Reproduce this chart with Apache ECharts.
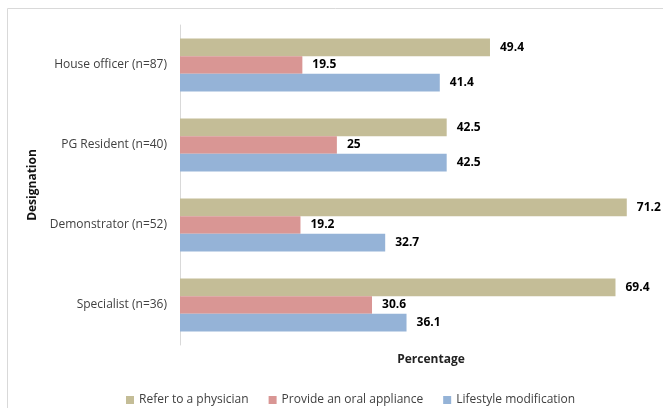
<!DOCTYPE html>
<html>
<head>
<meta charset="utf-8">
<script src="https://cdn.jsdelivr.net/npm/echarts@6/dist/echarts.min.js"></script>
<style>
  html, body { margin: 0; padding: 0; background: #fff; }
  #chart { width: 663px; height: 408px; }
</style>
</head>
<body>
<div id="chart"></div>
<script>
// categories, top to bottom
const designations = ['House officer (n=87)', 'PG Resident (n=40)', 'Demonstrator (n=52)', 'Specialist (n=36)']
const seriesNames = ['Refer to a physician', 'Provide an oral appliance', 'Lifestyle modification']
const referPhysician = [49.4, 42.5, 71.2, 69.4]
const oralAppliance = [19.5, 25, 19.2, 30.6]
const lifestyleMod = [41.4, 42.5, 32.7, 36.1]
const colors = ['#c4bd97', '#d99694', '#95b3d7']

const chart = echarts.init(document.getElementById('chart'))

const barSeries = (name, data, color) => ({
  name,
  type: 'bar',
  data,
  barGap: '0%',
  barCategoryGap: '34%',
  itemStyle: { color },
  label: {
    show: true,
    position: 'right',
    distance: 10,
    color: '#000',
    fontWeight: 'bold',
    fontSize: 12,
    fontFamily: 'Open Sans'
  }
})

chart.setOption({
  animation: false,
  textStyle: { fontFamily: 'Open Sans' },
  graphic: [
    {
      type: 'rect',
      shape: { x: 7.5, y: 8.5, width: 700, height: 500 },
      style: { fill: 'none', stroke: '#d9d9d9', lineWidth: 1 },
      silent: true
    }
  ],
  // plot area runs past the right edge, like the original (axis max 80)
  grid: { left: 180, top: 25, width: 502, height: 320, outerBoundsMode: 'none' },
  legend: {
    data: seriesNames,
    left: 121,
    top: 389,
    icon: 'rect',
    itemWidth: 8,
    itemHeight: 8,
    itemGap: 20,
    textStyle: { color: '#404040', fontSize: 12, fontFamily: 'Open Sans' }
  },
  xAxis: {
    type: 'value',
    min: 0,
    max: 80,
    name: 'Percentage',
    nameLocation: 'middle',
    nameGap: 9,
    nameTextStyle: { color: '#222', fontWeight: 'bold', fontSize: 12 },
    axisLine: { show: false },
    axisTick: { show: false },
    axisLabel: { show: false },
    splitLine: { show: false }
  },
  yAxis: {
    type: 'category',
    inverse: true,
    data: designations,
    name: 'Designation',
    nameLocation: 'middle',
    nameRotate: 90,
    nameGap: 132,
    nameTextStyle: { color: '#111', fontWeight: 'bold', fontSize: 12 },
    axisLine: { show: true, lineStyle: { color: '#d9d9d9' } },
    axisTick: { show: false },
    axisLabel: { color: '#404040', fontSize: 12, margin: 13 }
  },
  series: [
    barSeries(seriesNames[0], referPhysician, colors[0]),
    barSeries(seriesNames[1], oralAppliance, colors[1]),
    barSeries(seriesNames[2], lifestyleMod, colors[2])
  ]
})
</script>
</body>
</html>
